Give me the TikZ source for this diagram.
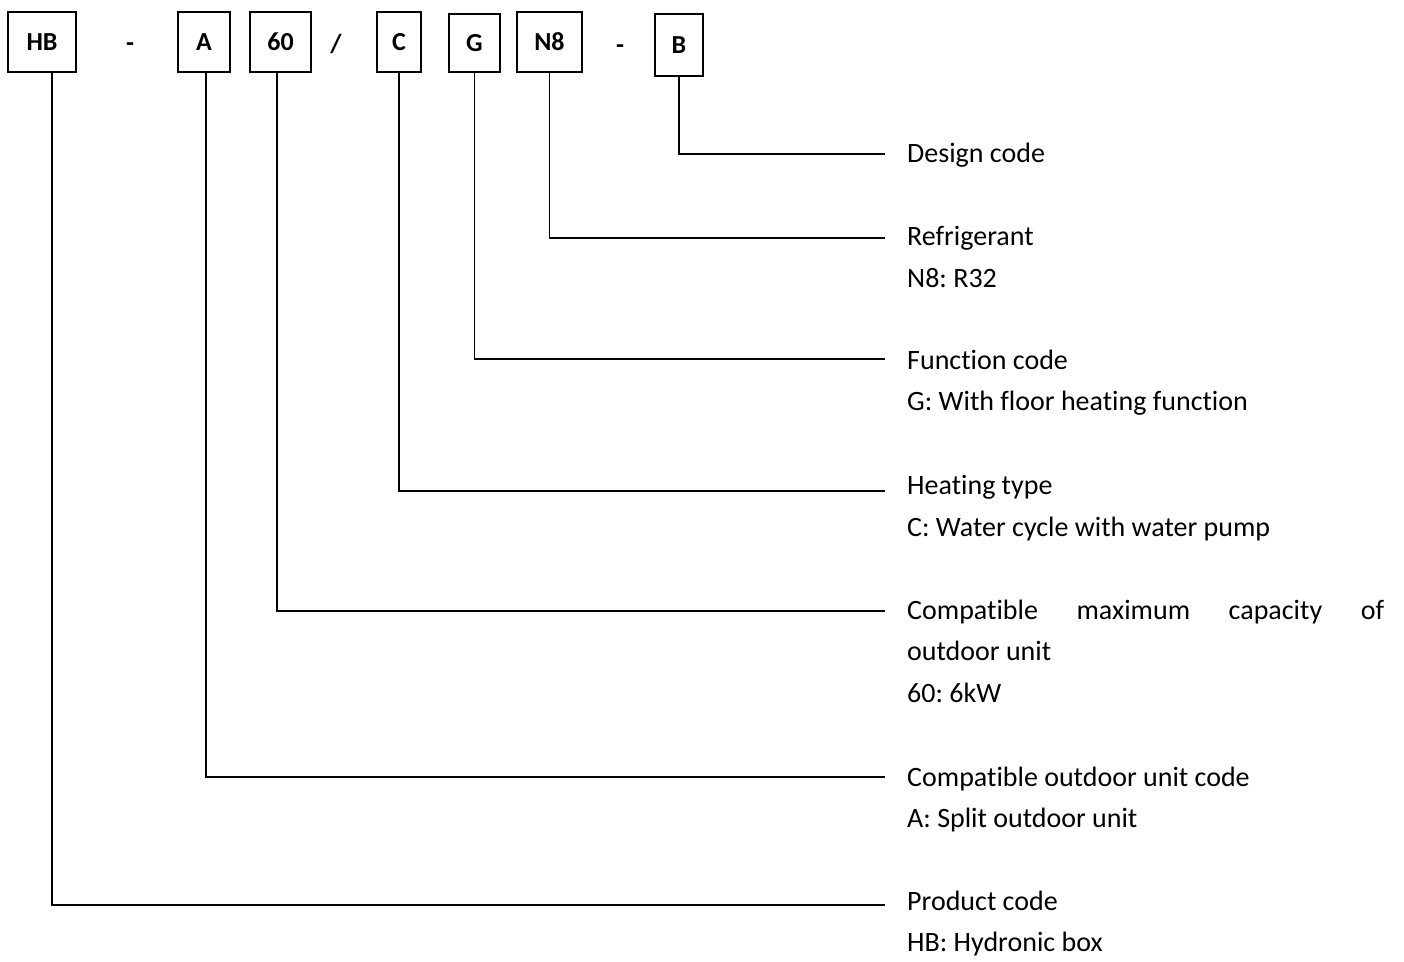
\documentclass[tikz,border=0pt]{standalone}
\usepackage{fontspec}
\setmainfont{Carlito}[Ligatures=NoCommon]
\begin{document}
\frenchspacing
\begin{tikzpicture}[x=1pt,y=-1pt,
  codebox/.style={draw,line width=1.4pt,inner sep=0pt,text height=17pt,text depth=0pt,font=\fontsize{26}{30}\selectfont\bfseries},
  sep/.style={font=\fontsize{26}{30}\selectfont\bfseries,inner sep=0pt,anchor=base},
  lead/.style={line width=1.6pt},
  lbl/.style={anchor=north west,inner sep=0pt,font=\fontsize{28}{41.5}\selectfont\frenchspacing,align=left}]
\useasboundingbox (0,0) rectangle (1404,961);
% code boxes
\node[codebox,minimum width=68pt,minimum height=60pt] (HB) at (42,42) {HB};
\node[sep] (d1) at (130,51) {-};
\node[codebox,minimum width=52pt,minimum height=60pt] (A) at (204,42) {A};
\node[codebox,minimum width=61pt,minimum height=60pt] (S) at (280.5,42) {60};
\node[sep] (sl) at (336,52) {/};
\node[codebox,minimum width=44pt,minimum height=60pt] (C) at (399,42) {C};
\node[codebox,minimum width=51pt,minimum height=58pt] (G) at (474.5,43) {G};
\node[codebox,minimum width=65pt,minimum height=60pt] (N) at (549.5,42) {N8};
\node[sep] (d2) at (620,53) {-};
\node[codebox,minimum width=48pt,minimum height=62pt] (B) at (679,45) {B};
% end coordinates
\coordinate (eB) at (885,154);
\coordinate (eN) at (885,238);
\coordinate (eG) at (885,359);
\coordinate (eC) at (885,491);
\coordinate (eS) at (885,611);
\coordinate (eA) at (885,777);
\coordinate (eH) at (885,905);
% leaders
\draw[lead] (B.south) |- (eB);
\draw[lead] (N.south) |- (eN);
\draw[lead] (G.south) |- (eG);
\draw[lead] (C.south) |- (eC);
\draw[lead] (S.south -| 277,0) |- (eS);
\draw[lead] (A.south -| 206,0) |- (eA);
\draw[lead] (HB.south -| 52,0) |- (eH);
% labels
\node[lbl] (tB) at (907,143) {Design code};
\node[lbl] (tN) at (907,226.5) {Refrigerant\\N8: R32};
\node[lbl] (tG) at (907,349.5) {Function code\\G: With floor heating function};
\node[lbl] (tC) at (907,475.5) {Heating type\\C: Water cycle with water pump};
\node[lbl] (tS) at (907,599.5) {\makebox[477pt][s]{Compatible maximum capacity of}\\outdoor unit\\60: 6kW};
\node[lbl] (tA) at (907,766.5) {Compatible outdoor unit code\\A: Split outdoor unit};
\node[lbl] (tH) at (907,890.5) {Product code\\HB: Hydronic box};
\end{tikzpicture}
\end{document}
